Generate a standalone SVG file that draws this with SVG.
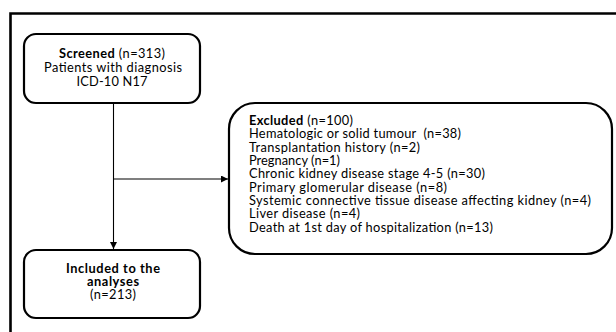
<svg xmlns="http://www.w3.org/2000/svg" width="616" height="332" viewBox="0 0 616 332">
  <defs>
    <marker id="arr" viewBox="0 0 10 10" refX="10" refY="5" markerWidth="7" markerHeight="7" markerUnits="userSpaceOnUse" orient="auto">
      <path d="M0,0 L10,5 L0,10 Z" fill="#000"/>
    </marker>
    <style>
      .box { fill: #fff; stroke: #000; stroke-width: 2.2; }
      .t { font-family: Lato, "Open Sans", "Liberation Sans", sans-serif; font-size: 12.8px; fill: #000; }
      .c { text-anchor: middle; }
      .b { font-weight: bold; }
      .conn { fill: none; stroke: #000; stroke-width: 1.1; }
    </style>
  </defs>
  <rect width="616" height="332" fill="#fff"/>
  <path d="M10.5,332 V13.5 H616" fill="none" stroke="#000" stroke-width="2.6"/>

  <g id="connectors">
    <path class="conn" d="M113.5,103 V249" marker-end="url(#arr)"/>
    <path class="conn" d="M113.5,179 H228" marker-end="url(#arr)"/>
  </g>

  <g id="screened">
    <rect class="box" x="24" y="34" width="176" height="69" rx="12"/>
    <text class="t c" x="112" y="58" textLength="106"><tspan class="b">Screened</tspan> (n=313)</text>
    <text class="t c" x="113" y="72" textLength="138">Patients with diagnosis</text>
    <text class="t c" x="112" y="86" textLength="71">ICD-10 N17</text>
  </g>

  <g id="excluded">
    <rect class="box" x="229" y="103" width="383" height="151" rx="26"/>
    <text class="t" x="249" y="125" textLength="104"><tspan class="b">Excluded</tspan> (n=100)</text>
    <text class="t" x="249" y="138" textLength="212" xml:space="preserve">Hematologic or solid tumour  (n=38)</text>
    <text class="t" x="249" y="152" textLength="171">Transplantation history (n=2)</text>
    <text class="t" x="249" y="165" textLength="91">Pregnancy (n=1)</text>
    <text class="t" x="249" y="178" textLength="236">Chronic kidney disease stage 4-5 (n=30)</text>
    <text class="t" x="249" y="192" textLength="198">Primary glomerular disease (n=8)</text>
    <text class="t" x="249" y="205" textLength="342">Systemic connective tissue disease affecting kidney (n=4)</text>
    <text class="t" x="249" y="218" textLength="111">Liver disease (n=4)</text>
    <text class="t" x="249" y="232" textLength="244">Death at 1st day of hospitalization (n=13)</text>
  </g>

  <g id="included">
    <rect class="box" x="24" y="250" width="176" height="68" rx="12"/>
    <text class="t c b" x="113" y="273" textLength="94">Included to the</text>
    <text class="t c b" x="113" y="286" textLength="52">analyses</text>
    <text class="t c" x="113" y="299" textLength="46">(n=213)</text>
  </g>
</svg>
